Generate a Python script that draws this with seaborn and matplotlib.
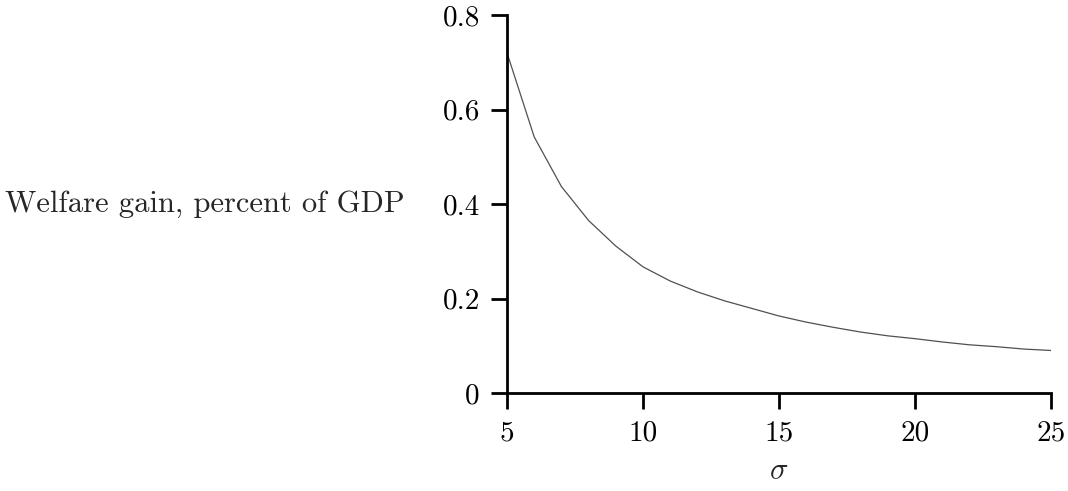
import matplotlib
matplotlib.use("Agg")
import matplotlib.pyplot as plt
import seaborn as sns
import pandas as pd

sigma = [5, 6, 7, 8, 9, 10, 11, 12, 13, 14, 15, 16, 17, 18, 19, 20, 21, 22, 23, 24, 25]
welfare_gain = [0.72, 0.542, 0.437, 0.365, 0.311, 0.267, 0.237, 0.214, 0.195, 0.179,
                0.163, 0.150, 0.139, 0.129, 0.121, 0.115, 0.108, 0.102, 0.098, 0.093, 0.090]
x_ticks = [5, 10, 15, 20, 25]
y_ticks = [0, 0.2, 0.4, 0.6, 0.8]
y_tick_labels = ["0", "0.2", "0.4", "0.6", "0.8"]

sns.set_style("ticks")
plt.rcParams["font.family"] = ["cmr10", "DejaVu Serif"]
plt.rcParams["mathtext.fontset"] = "cm"
plt.rcParams["axes.formatter.use_mathtext"] = True

df = pd.DataFrame({"sigma": sigma, "gain": welfare_gain})

fig = plt.figure(figsize=(10.68, 4.91), dpi=100)
ax = fig.add_axes([507 / 1068, 98 / 491, 544 / 1068, 378 / 491])
sns.lineplot(data=df, x="sigma", y="gain", ax=ax, color="#505050", linewidth=0.9)

ax.set_xlim(5, 25)
ax.set_ylim(0, 0.8)
ax.set_xticks(x_ticks)
ax.set_xticklabels([str(t) for t in x_ticks])
ax.set_yticks(y_ticks)
ax.set_yticklabels(y_tick_labels)

for s in ["top", "right"]:
    ax.spines[s].set_visible(False)
for s in ["left", "bottom"]:
    ax.spines[s].set_linewidth(2.0)
    ax.spines[s].set_color("black")

ax.tick_params(axis="both", direction="out", length=11.5, width=2.0,
               labelsize=21, pad=8, colors="black")

ax.set_xlabel(r"$\sigma$", fontsize=22)
ax.xaxis.set_label_coords(0.5, -0.17)
ax.set_ylabel("Welfare gain, percent of GDP", fontsize=22, rotation=0,
              ha="right", va="center")
ax.yaxis.set_label_coords(-0.1875, 0.5)

fig.savefig("out.png", dpi=100)
